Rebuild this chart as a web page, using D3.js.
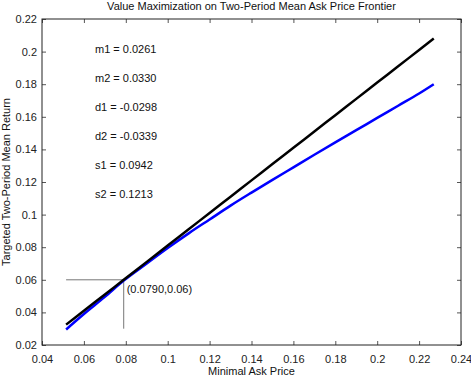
<!doctype html>
<html>
<head>
<script src="https://d3js.org/d3.v7.min.js" charset="utf-8"></script>
<style>
  body { margin: 0; background: #fff; }
  text { font-family: "Liberation Sans", Arial, sans-serif; }
</style>
</head>
<body>
<div id="viz"></div>
<script>
// frontier data
var askPrice   = [0.0515, 0.06, 0.07, 0.079, 0.09, 0.10, 0.11, 0.12, 0.13, 0.14, 0.15, 0.16, 0.17, 0.18, 0.19, 0.20, 0.21, 0.22, 0.227];
var meanReturn = [0.0325, 0.041, 0.051, 0.060, 0.071, 0.081, 0.091, 0.101, 0.111, 0.121, 0.131, 0.141, 0.151, 0.161, 0.171, 0.181, 0.191, 0.201, 0.208];
var valueMax   = [0.0295, 0.0390, 0.0495, 0.0595, 0.0700, 0.0795, 0.0885, 0.0970, 0.1055, 0.1135, 0.1213, 0.1290, 0.1367, 0.1443, 0.1518, 0.1593, 0.1668, 0.1743, 0.1800];
var xTicks = [0.04, 0.06, 0.08, 0.1, 0.12, 0.14, 0.16, 0.18, 0.2, 0.22, 0.24];
var yTicks = [0.02, 0.04, 0.06, 0.08, 0.1, 0.12, 0.14, 0.16, 0.18, 0.2, 0.22];
var params = ["m1 = 0.0261", "m2 = 0.0330", "d1 = -0.0298", "d2 = -0.0339", "s1 = 0.0942", "s2 = 0.1213"];
var marker = {x: 0.079, y: 0.06, xFrom: 0.0515, yFrom: 0.03, label: "(0.0790,0.06)"};

var W = 471, H = 377;
var margin = {top: 19, right: 10, bottom: 32, left: 42};
var width = W - margin.left - margin.right,
    height = H - margin.top - margin.bottom;

var svg = d3.select("#viz").append("svg")
    .attr("width", W).attr("height", H);
var g = svg.append("g")
    .attr("transform", "translate(" + margin.left + "," + margin.top + ")");

var x = d3.scaleLinear().domain([0.04, 0.24]).range([0, width]);
var y = d3.scaleLinear().domain([0.02, 0.22]).range([height, 0]);
var fmt = d => String(+d.toFixed(2));

// axes, ticks pointing inward, on all four sides
function styleAxis(sel) {
  sel.select(".domain").remove();
  sel.selectAll("line").attr("stroke", "#555");
  sel.selectAll("text").attr("font-size", 11).attr("fill", "#222")
    .attr("font-family", "Liberation Sans, Arial, sans-serif");
}
g.append("g").attr("transform", "translate(0," + height + ")")
  .call(d3.axisBottom(x).tickValues(xTicks).tickFormat(fmt).tickSizeInner(-4).tickSizeOuter(0).tickPadding(10))
  .call(styleAxis);
g.append("g")
  .call(d3.axisTop(x).tickValues(xTicks).tickFormat("").tickSizeInner(-4).tickSizeOuter(0))
  .call(styleAxis);
g.append("g")
  .call(d3.axisLeft(y).tickValues(yTicks).tickFormat(fmt).tickSizeInner(-4).tickSizeOuter(0).tickPadding(5))
  .call(styleAxis);
g.append("g").attr("transform", "translate(" + width + ",0)")
  .call(d3.axisRight(y).tickValues(yTicks).tickFormat("").tickSizeInner(-4).tickSizeOuter(0))
  .call(styleAxis);

g.append("rect").attr("width", width).attr("height", height)
  .attr("fill", "none").attr("stroke", "#222").attr("stroke-width", 1);

// guide lines to the marked point
g.append("line")
  .attr("x1", x(marker.xFrom)).attr("x2", x(marker.x))
  .attr("y1", y(marker.y)).attr("y2", y(marker.y))
  .attr("stroke", "#777").attr("stroke-width", 1);
g.append("line")
  .attr("x1", x(marker.x)).attr("x2", x(marker.x))
  .attr("y1", y(marker.y)).attr("y2", y(marker.yFrom))
  .attr("stroke", "#777").attr("stroke-width", 1);

var line = d3.line().curve(d3.curveMonotoneX);
g.append("path")
  .attr("d", line(askPrice.map((d, i) => [x(d), y(valueMax[i])])))
  .attr("fill", "none").attr("stroke", "#0000ff").attr("stroke-width", 2.5);
g.append("path")
  .attr("d", line(askPrice.map((d, i) => [x(d), y(meanReturn[i])])))
  .attr("fill", "none").attr("stroke", "#000").attr("stroke-width", 2.5);

g.append("text")
  .attr("x", x(marker.x) + 3).attr("y", y(marker.y) + 13)
  .attr("font-size", 11).attr("fill", "#111").text(marker.label);

// parameter annotations
g.selectAll(".param").data(params).enter().append("text")
  .attr("class", "param")
  .attr("x", 53).attr("y", (d, i) => 34 + i * 29)
  .attr("font-size", 11).attr("fill", "#111").text(d => d);

// titles
svg.append("text").attr("x", margin.left + width / 2).attr("y", 10)
  .attr("text-anchor", "middle").attr("font-size", 11).attr("fill", "#111")
  .text("Value Maximization on Two-Period Mean Ask Price Frontier");
svg.append("text").attr("x", margin.left + width / 2).attr("y", 375)
  .attr("text-anchor", "middle").attr("font-size", 11).attr("fill", "#111")
  .text("Minimal Ask Price");
svg.append("text")
  .attr("transform", "translate(10," + (margin.top + height / 2) + ") rotate(-90)")
  .attr("text-anchor", "middle").attr("font-size", 11).attr("fill", "#111")
  .text("Targeted Two-Period Mean Return");
</script>
</body>
</html>
